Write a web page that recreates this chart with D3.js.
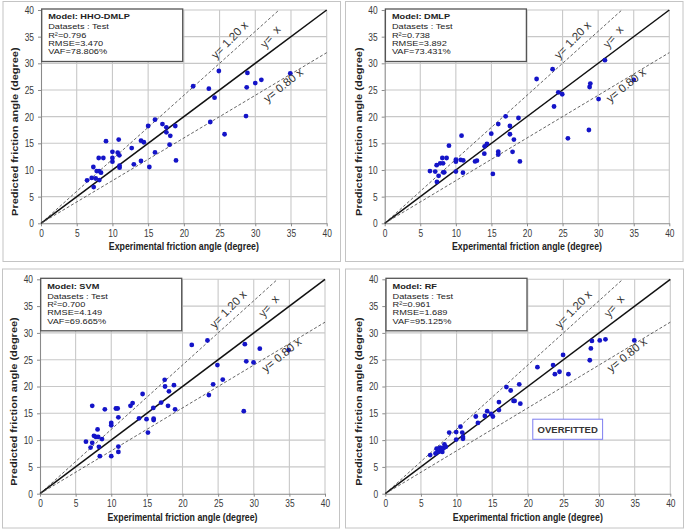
<!DOCTYPE html>
<html><head><meta charset="utf-8">
<script src="https://cdn.jsdelivr.net/npm/d3@7/dist/d3.min.js"></script>
<style>
body{margin:0;background:#fff}
text{font-family:"Liberation Sans",Arial,sans-serif}
</style>
</head><body>
<svg id="chart" width="685" height="532"></svg>
<script>
// ---------------- data ----------------
const xTicks = [0, 5, 10, 15, 20, 25, 30, 35, 40];
const yTicks = [0, 5, 10, 15, 20, 25, 30, 35, 40];

const hhoExp  = [6.45,7.1,7.33,7.38,7.66,7.8,8.13,8.08,8.17,8.4,8.73,9.1,10.0,10.0,10.0,10.74,10.88,10.97,11.0,11.0,12.7,13.0,14.0,14.0,14.4,15.0,15.17,15.96,15.96,17.0,17.55,17.55,18.1,18.0,18.8,18.9,21.3,23.5,23.7,24.3,24.9,25.7,28.7,28.8,28.9,30.0,30.85,34.9];
const hhoPred = [8.06,8.5,10.56,6.8,8.4,9.8,9.8,12.25,8.1,9.5,12.25,15.4,13.4,12.25,11.56,13.25,15.7,12.75,10.8,10.44,14.1,11.06,11.7,15.5,15.2,18.25,10.56,19.44,13.3,18.6,18.0,17.06,16.4,14.75,18.25,11.8,25.7,25.25,19.0,23.56,28.56,16.7,20.1,25.5,28.2,26.3,26.9,28.1];

const dmlpExp  = [6.36,7.1,7.3,7.34,7.58,7.8,8.1,8.2,8.23,8.37,8.7,9.03,10.0,10.0,10.0,10.67,10.8,11.04,11.0,12.7,12.96,14.0,14.04,14.37,14.98,15.2,15.96,15.96,15.96,17.0,17.6,17.6,18.16,17.97,18.8,19.0,21.35,23.6,23.8,24.4,24.95,25.75,28.7,28.8,28.9,30.06,30.95,35.0];
const dmlpPred = [9.8,9.7,10.9,7.75,8.9,11.25,12.25,11.25,9.56,9.56,12.25,14.56,11.94,11.56,9.7,11.9,16.44,11.8,9.5,11.6,11.75,13.06,14.44,14.9,16.8,9.25,13.44,12.9,18.6,20.06,18.25,16.7,15.7,13.4,19.75,11.6,27.06,28.9,21.9,24.56,24.2,15.94,17.5,25.56,26.2,23.3,30.6,26.9];

const svmExp  = [6.45,7.1,7.33,7.33,7.57,7.85,8.08,8.17,8.27,8.4,8.7,9.1,10.0,10.0,10.0,10.65,10.9,11.0,11.0,11.0,12.7,13.0,13.9,14.4,14.95,15.15,15.9,15.95,15.95,17.0,17.5,17.55,17.97,18.1,18.8,18.96,21.3,23.5,23.7,24.3,24.9,25.65,28.6,28.75,28.95,29.97,30.85,34.9];
const svmPred = [9.7,8.6,16.4,9.5,10.8,10.6,12.0,10.6,8.75,7.0,10.2,15.75,7.0,13.2,12.75,15.9,15.9,14.25,8.8,7.8,16.4,16.9,14.06,18.6,13.9,11.4,16.0,14.0,13.75,17.0,21.25,20.0,16.4,19.1,20.25,15.75,27.75,28.6,18.4,20.4,24.0,21.3,15.4,27.9,24.7,24.5,27.06,26.8];

const rfExp  = [6.3,7.05,7.2,7.33,7.57,7.7,7.9,8.0,8.15,8.3,8.5,8.97,9.95,9.95,10.55,10.8,10.9,10.9,12.7,13.0,13.97,14.3,14.85,15.1,15.95,15.95,17.0,17.6,18.0,18.15,18.8,18.95,21.35,23.55,23.8,24.45,24.95,25.7,28.7,28.85,29.0,30.1,30.9,34.95];
const rfPred = [7.2,7.5,8.4,7.8,7.9,8.6,8.25,7.8,8.5,9.2,8.75,11.4,11.5,10.1,12.5,11.4,10.6,10.25,14.4,13.2,14.5,15.4,14.9,14.4,15.6,17.1,19.9,19.25,17.3,17.3,20.4,16.8,23.6,24.0,22.3,22.75,25.9,22.3,24.9,27.1,28.5,28.6,28.8,28.6];

const modelNames = ["HHO-DMLP", "DMLP", "SVM", "RF"];
const r2Values   = ["0.796", "0.738", "0.700", "0.961"];
const rmseValues = ["3.470", "3.892", "4.149", "1.689"];
const vafValues  = ["78.806%", "73.431%", "69.665%", "95.125%"];
const refSlopes  = [1.2, 1.0, 0.8];
const refLabels  = ["y= 1.20 x", "y=  x", "y= 0.80 x"];
const xTitle = "Experimental friction angle (degree)";
const yTitle = "Predicted friction angle (degree)";
const overfitText = "OVERFITTED";

// ---------------- layout ----------------
const expSets  = [hhoExp, dmlpExp, svmExp, rfExp];
const predSets = [hhoPred, dmlpPred, svmPred, rfPred];
const frames = [
  {bx:3,   by:1.5, bw:337.5, bh:260, x0:41,    x1:326.7, yT:10,    yB:223.3},
  {bx:345.5, by:1.5, bw:337.5, bh:260, x0:384.7, x1:669.3, yT:10,    yB:223.3},
  {bx:2.5, by:269, bw:337, bh:259, x0:40,    x1:325,   yT:279.3, yB:493.7},
  {bx:345.5, by:269, bw:338, bh:259, x0:385.3, x1:670.3, yT:279.3, yB:493.7}
];
const labelPos = [
  {x:26.4, y:34.4, rot:-46},
  {x:32.1, y:35.0, rot:-50},
  {x:33.9, y:25.9, rot:-39}
];
const SQ = 0.8; // horizontal squeeze of the original raster text

const svg = d3.select("#chart");

frames.forEach((f, i) => {
  const g = svg.append("g");
  const x = d3.scaleLinear().domain([0, 40]).range([f.x0, f.x1]);
  const y = d3.scaleLinear().domain([0, 40]).range([f.yB, f.yT]);

  // outer panel frame
  g.append("rect").attr("x", f.bx).attr("y", f.by).attr("width", f.bw).attr("height", f.bh)
    .attr("fill", "#fff").attr("stroke", "#c4c4c4").attr("stroke-width", 1);

  // grid
  g.append("g").selectAll("line.v").data(xTicks.filter(d => d > 0)).join("line")
    .attr("x1", d => x(d)).attr("x2", d => x(d)).attr("y1", y(0)).attr("y2", y(40))
    .attr("stroke", "#c8c8c8").attr("stroke-width", 1.1);
  g.append("g").selectAll("line.h").data(yTicks.filter(d => d > 0)).join("line")
    .attr("x1", x(0)).attr("x2", x(40)).attr("y1", d => y(d)).attr("y2", d => y(d))
    .attr("stroke", "#c8c8c8").attr("stroke-width", 1.1);

  // axes
  const ax = g.append("g").attr("transform", `translate(0,${f.yB})`)
    .call(d3.axisBottom(x).tickValues(xTicks).tickSize(3).tickSizeOuter(0).tickPadding(4));
  const ay = g.append("g").attr("transform", `translate(${f.x0},0)`)
    .call(d3.axisLeft(y).tickValues(yTicks).tickSize(3).tickSizeOuter(0).tickPadding(4));
  [ax, ay].forEach(a => {
    a.select(".domain").attr("stroke", "#8a8a8a").attr("stroke-width", 1.1);
    a.selectAll(".tick line").attr("stroke", "#8a8a8a");
    a.selectAll("text").attr("font-family", "Liberation Sans, Arial, sans-serif")
      .attr("font-size", 10.5).attr("fill", "#3a3a3a");
  });
  ax.selectAll("text").attr("y", 6).attr("transform", `scale(${SQ},1)`);
  ay.selectAll("text").attr("x", -7 / SQ).attr("transform", `scale(${SQ},1)`);

  // axis titles
  g.append("text").attr("transform", `translate(${(f.x0 + f.x1) / 2},${f.yB + 27}) scale(${SQ},1)`)
    .attr("text-anchor", "middle").attr("font-weight", "bold").attr("font-size", 11)
    .attr("fill", "#222").text(xTitle);
  g.append("text").attr("transform", `translate(${f.x0 - 23},${(f.yT + f.yB) / 2 + 15}) scale(${SQ},1) rotate(-90)`)
    .attr("text-anchor", "middle").attr("font-weight", "bold").attr("font-size", 11)
    .attr("fill", "#222").text(yTitle);

  // reference lines
  refSlopes.forEach((s) => {
    const xe = Math.min(40, 40 / s);
    g.append("line").attr("x1", x(0)).attr("y1", y(0)).attr("x2", x(xe)).attr("y2", y(xe * s))
      .attr("stroke", s === 1 ? "#111" : "#555")
      .attr("stroke-width", s === 1 ? 1.5 : 0.9)
      .attr("stroke-dasharray", s === 1 ? null : "3,2");
  });

  // points
  const pts = expSets[i].map((e, k) => [e, predSets[i][k]]);
  g.append("g").selectAll("circle").data(pts).join("circle")
    .attr("cx", d => x(d[0])).attr("cy", d => y(d[1])).attr("r", 2.4)
    .attr("fill", "#1414c8");

  // reference labels
  refLabels.forEach((t, k) => {
    const p = labelPos[k];
    g.append("text").attr("transform", `translate(${x(p.x)},${y(p.y)}) rotate(${p.rot})`)
      .attr("text-anchor", "middle").attr("dominant-baseline", "central")
      .attr("font-size", 11.5).attr("fill", "#333").style("white-space", "pre").text(t);
  });

  // stats box
  const bx = f.x0 + 0.7, by = f.yT - 1;
  g.append("rect").attr("x", bx).attr("y", by).attr("width", 141).attr("height", 52.5)
    .attr("fill", "#fff").attr("stroke", "#555").attr("stroke-width", 1.3);
  const lines = [
    {t: "Model: " + modelNames[i], dy: 10.3, b: true},
    {t: "Datasets : Test", dy: 20.3},
    {t: "R\u00b2=" + r2Values[i], dy: 28.6},
    {t: "RMSE=" + rmseValues[i], dy: 36.9},
    {t: "VAF=" + vafValues[i], dy: 45.2}
  ];
  lines.forEach(l => {
    g.append("text").attr("transform", `translate(${bx + 6.5},${by + l.dy}) scale(1,0.82)`)
      .attr("font-size", 9.2).attr("font-weight", l.b ? "bold" : "normal")
      .attr("fill", "#222").text(l.t);
  });

  if (i === 3) {
    g.append("rect").attr("x", x(20.7)).attr("y", y(13.9))
      .attr("width", x(30.5) - x(20.7)).attr("height", y(10.15) - y(13.9))
      .attr("fill", "#fff").attr("stroke", "#7d7df0").attr("stroke-width", 1);
    g.append("text").attr("x", x(25.6)).attr("y", y(12.02))
      .attr("text-anchor", "middle").attr("dominant-baseline", "central")
      .attr("font-family", "Liberation Serif, Times New Roman, serif")
      .attr("font-weight", "bold").attr("font-size", 9.5).attr("fill", "#333")
      .text(overfitText);
  }
});
</script>
</body></html>
